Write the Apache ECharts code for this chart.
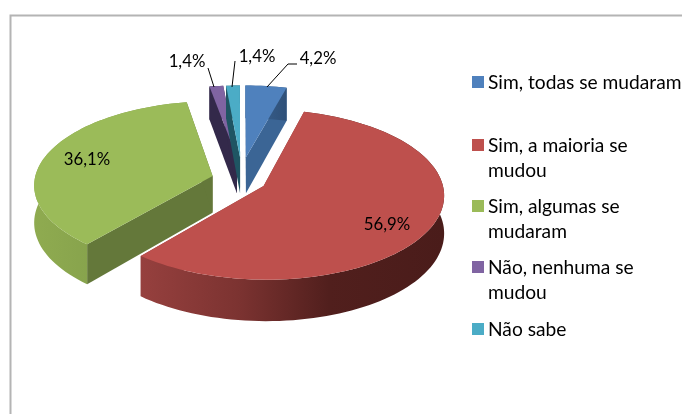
<!DOCTYPE html>
<html><head><meta charset="utf-8">
<style>html,body{margin:0;padding:0;background:#fff}#c{width:682px;height:414px}</style>
<script src="https://cdn.jsdelivr.net/npm/echarts@6/dist/echarts.min.js"></script>
</head><body><div id="c"></div>
<script>
const categories = ['Sim, todas se mudaram','Sim, a maioria se\nmudou','Sim, algumas se\nmudaram','Não, nenhuma se\nmudou','Não sabe'];
const values = [4.2, 56.9, 36.1, 1.4, 1.4];

const colors = ['#4f81bd','#be504d','#9bbb59','#8064a2','#4bacc6'];
const edgeColors = ['#3b6595','#8c3a38','#64783a','#33294a','#1f5563'];
const wallStops = [
  [[0,'#3b6595'],[1,'#2f5078']],
  [[0,'#96403e'],[0.32,'#7c3331'],[0.62,'#511f1d'],[1,'#4a1c1a']],
  [[0,'#8fab50'],[1,'#7a9646']],
  [[0,'#33294a'],[1,'#33294a']],
  [[0,'#1f5563'],[1,'#1f5563']]
];
const drawOrder = [2,4,3,5,6]; // stacking per slice
const geo = {cx:239, cy:179.5, R:178, S:83, k:0.1, depth:37};
const explode = [[0.04,0.277],[0.137,-0.077],[-0.149,0.042],[-0.012,0.277],[0.006,0.277]];
const labelAt = [[318,59],[387,225],[87,160],[187,62],[257,57]];
const leaders = [[[267,87],[288,64],[297,64]],null,null,[[214,87],[208,68]],[[232,87],[235,61]]];
const legendY = [82,145,206,267,329];
const FONT = 'Lato, Carlito, sans-serif';
const LABEL_SIZE = 16.8, LEGEND_SIZE = 19.2;

const total = values.reduce((a,b)=>a+b,0);
function project(u,v){
  const p = 1/(1+geo.k*v);
  return [geo.cx+geo.R*u*p, geo.cy-geo.S*v*p, p];
}
function slicePts(i,a){ // a in degrees clockwise from top
  const r = a*Math.PI/180;
  return project(explode[i][0]+Math.sin(r), explode[i][1]+Math.cos(r));
}
const down = q => [q[0], q[1]+geo.depth*q[2]];

function renderItem(params, api){
  const i = params.dataIndex;
  let start = 0;
  for(let j=0;j<i;j++) start += values[j]/total*360;
  const end = start + api.value(0)/total*360;
  const apex = project(explode[i][0], explode[i][1]);
  const rim = [];
  const n = Math.max(4, Math.ceil((end-start)/2));
  for(let s=0;s<=n;s++) rim.push(slicePts(i,start+(end-start)*s/n));
  const xy = q => [q[0],q[1]];
  const z = drawOrder[i]*10;
  const poly = (pts,fill,zz) => ({type:'polygon',shape:{points:pts},style:{fill:fill,stroke:null},z2:zz,silent:true});
  const children = [];
  // radial walls
  children.push(poly([apex,rim[0],down(rim[0]),down(apex)].map(xy),edgeColors[i],z));
  children.push(poly([apex,rim[n],down(rim[n]),down(apex)].map(xy),edgeColors[i],z));
  // outer wall
  const wall = rim.map(xy).concat(rim.slice().reverse().map(down).map(xy));
  children.push(poly(wall,{type:'linear',x:0,y:0,x2:1,y2:0,
    colorStops:wallStops[i].map(s=>({offset:s[0],color:s[1]}))},z+1));
  // top face
  children.push(poly([xy(apex)].concat(rim.map(xy)),colors[i],z+2));
  // leader
  if(leaders[i]) children.push({type:'polyline',shape:{points:leaders[i]},
    style:{stroke:'#000',lineWidth:1,fill:null},z2:200,silent:true});
  // value label
  children.push({type:'text',x:labelAt[i][0],y:labelAt[i][1],z2:210,silent:true,
    style:{text:api.value(0).toFixed(1).replace('.',',')+'%',font:LABEL_SIZE+'px '+FONT,
      fill:'#000',align:'center',verticalAlign:'middle'}});
  return {type:'group',children:children};
}

const legendGraphics = [];
categories.forEach((c,i)=>{
  legendGraphics.push({type:'rect',shape:{x:472,y:legendY[i]-6,width:12,height:12},style:{fill:colors[i]},silent:true});
  legendGraphics.push({type:'text',x:488,y:legendY[i]-12,silent:true,
    style:{text:c,font:LEGEND_SIZE+'px '+FONT,fill:'#000',lineHeight:25.5,align:'left',verticalAlign:'top'}});
});
legendGraphics.push({type:'polyline',shape:{points:[[10.5,420],[10.5,15.5],[690,15.5]]},
  style:{stroke:'#b4b4b4',lineWidth:2,fill:null},silent:true});

const chart = echarts.init(document.getElementById('c'),null,{renderer:'canvas'});
chart.setOption({
  animation:false,
  backgroundColor:'#fff',
  tooltip:{show:false},
  graphic:legendGraphics,
  series:[{type:'custom',coordinateSystem:'none',renderItem:renderItem,
    data:values.map((v,i)=>({name:categories[i],value:[v]}))}]
});
</script></body></html>
